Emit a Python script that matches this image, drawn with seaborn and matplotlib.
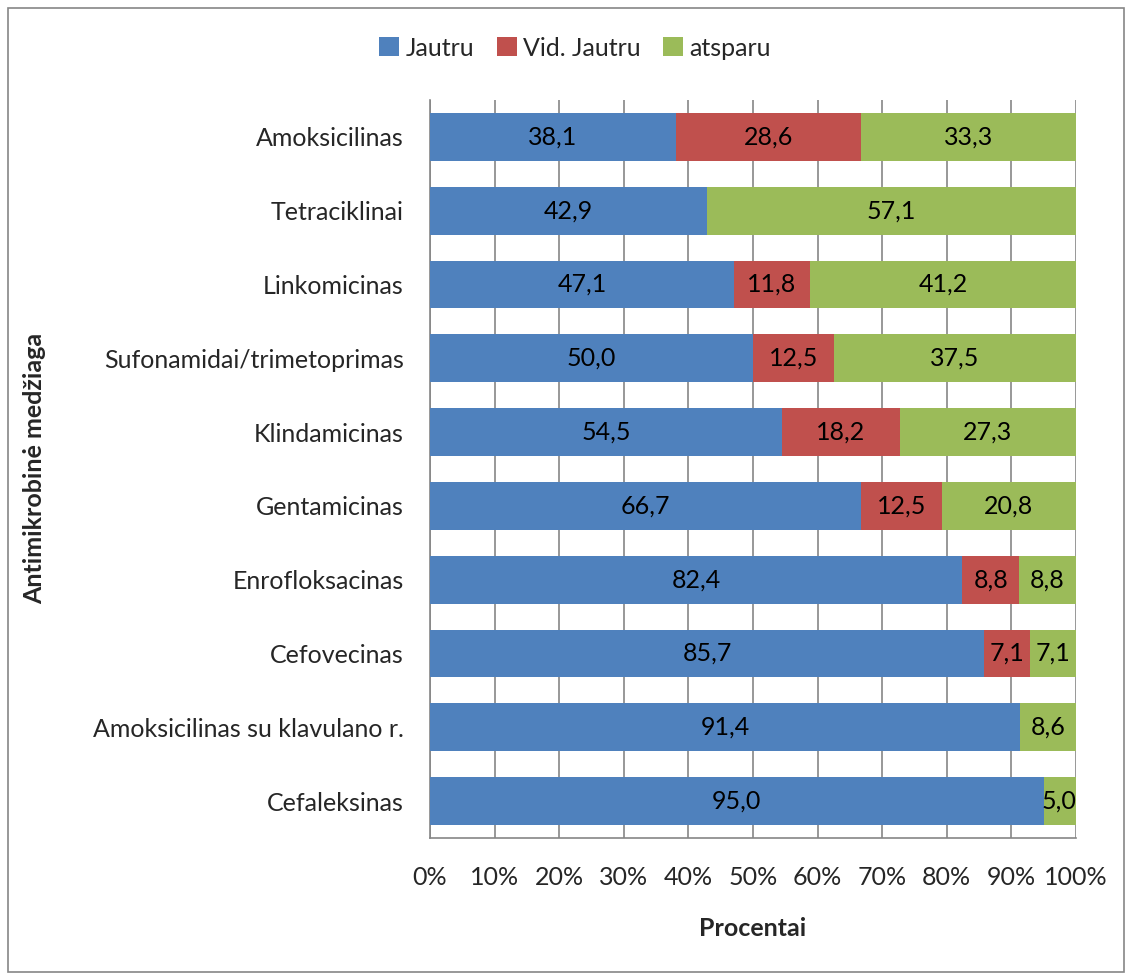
import numpy as np
import pandas as pd
import matplotlib
matplotlib.use("Agg")
import matplotlib.pyplot as plt
import seaborn as sns
from matplotlib.patches import Rectangle, Patch

categories = ["Amoksicilinas", "Tetraciklinai", "Linkomicinas", "Sufonamidai/trimetoprimas",
              "Klindamicinas", "Gentamicinas", "Enrofloksacinas", "Cefovecinas",
              "Amoksicilinas su klavulano r.", "Cefaleksinas"]
jautru = [38.1, 42.9, 47.1, 50.0, 54.5, 66.7, 82.4, 85.7, 91.4, 95.0]
vid_jautru = [28.6, 0.0, 11.8, 12.5, 18.2, 12.5, 8.8, 7.1, 0.0, 0.0]
atsparu = [33.3, 57.1, 41.2, 37.5, 27.3, 20.8, 8.8, 7.1, 8.6, 5.0]
series_names = ["Jautru", "Vid. Jautru", "atsparu"]
colors = ["#4F81BD", "#C0504D", "#9BBB59"]
x_ticks = [0, 10, 20, 30, 40, 50, 60, 70, 80, 90, 100]

sns.set_style("white")
plt.rcParams["font.family"] = ["Lato", "DejaVu Sans"]
FS = 18

vals = np.array([jautru, vid_jautru, atsparu], dtype=float)
tot = vals.sum(axis=0)
pct = vals / tot * 100
cum = np.cumsum(pct, axis=0)

fig = plt.figure(figsize=(11.32, 9.8), dpi=100)
ax = fig.add_axes([430/1132, 1-838/980, (1076-430)/1132, (838-100)/980])

# draw from outermost cumulative to innermost
for i in [2, 1, 0]:
    df = pd.DataFrame({"cat": categories, "v": cum[i]})
    sns.barplot(data=df, x="v", y="cat", orient="h", color=colors[i], saturation=1,
                width=0.65, ax=ax, edgecolor="none", linewidth=0, zorder=3)

for i in range(3):
    for j, cat in enumerate(categories):
        if vals[i, j] <= 0:
            continue
        left = cum[i, j] - pct[i, j]
        center = left + pct[i, j] / 2
        txt = f"{vals[i, j]:.1f}".replace(".", ",")
        if i == 2 and pct[i, j] < 6:
            ax.text(100, j, txt, ha="right", va="center", fontsize=FS, color="black", zorder=5)
        else:
            ax.text(center, j, txt, ha="center", va="center", fontsize=FS, color="black", zorder=5)

ax.set_xlim(0, 100)
ax.set_ylim(len(categories) - 0.5, -0.5)
ax.set_xticks(x_ticks)
ax.set_xticklabels([f"{t}%" for t in x_ticks], fontsize=FS)
ax.set_yticks(np.arange(len(categories)))
ax.set_yticklabels(categories, fontsize=FS)
ax.tick_params(axis="y", length=0, pad=19)
ax.set_yticks(np.arange(-0.5, len(categories) + 0.5, 1), minor=True)
ax.tick_params(axis="y", which="minor", length=6, color="#868686", width=1.2, direction="out")
ax.tick_params(axis="x", length=6, color="#868686", width=1.2, direction="out", pad=14)
ax.xaxis.grid(True, color="#868686", linewidth=1.2, zorder=0)
ax.set_axisbelow(True)
for s in ["top", "right"]:
    ax.spines[s].set_visible(False)
for s in ["left", "bottom"]:
    ax.spines[s].set_color("#868686")
    ax.spines[s].set_linewidth(1.2)

ax.set_xlabel("Procentai", fontsize=FS, fontweight="bold", labelpad=20)
ax.set_ylabel("")
fig.text(35/1132, 1-468/980, "Antimikrobinė medžiaga", rotation=90, ha="center", va="center",
         fontsize=FS, fontweight="bold")

handles = [Patch(facecolor=c, edgecolor="none") for c in colors]
fig.legend(handles, series_names, loc="center", bbox_to_anchor=(575/1132, 1-48/980), ncol=3,
           frameon=False, fontsize=FS, handlelength=0.8, handleheight=0.8, handletextpad=0.25,
           columnspacing=0.9)

fig.patches.append(Rectangle((8/1132, 8/980), 1-16/1132, 1-16/980, transform=fig.transFigure,
                             fill=False, edgecolor="#868686", linewidth=1.2))

fig.savefig("out.png", dpi=100)
